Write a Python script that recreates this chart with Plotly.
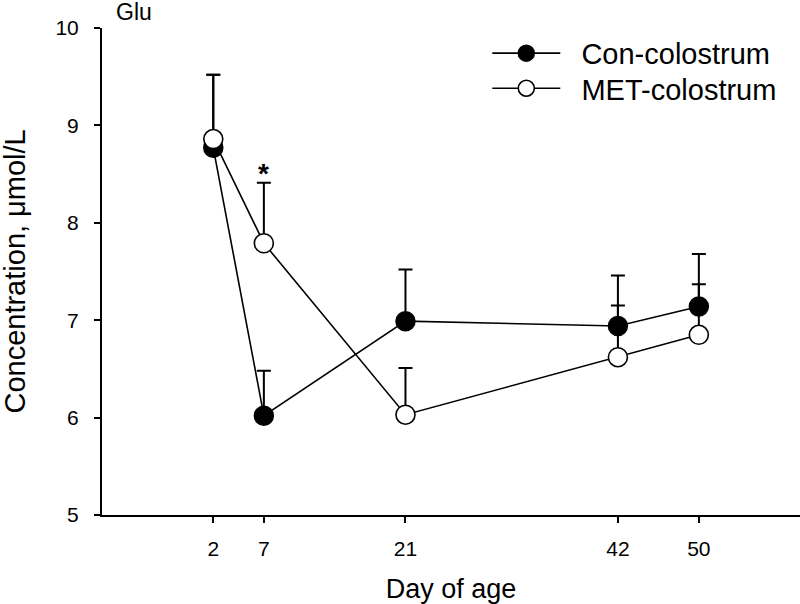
import plotly.graph_objects as go

days = [2, 7, 21, 42, 50]
con_mean = [8.77, 6.02, 6.99, 6.94, 7.14]
con_err = [0.75, 0.46, 0.53, 0.52, 0.54]
met_mean = [8.86, 7.79, 6.03, 6.62, 6.85]
met_err = [0.66, 0.62, 0.48, 0.53, 0.52]
zeros = [0, 0, 0, 0, 0]
x_ticks = [2, 7, 21, 42, 50]
y_ticks = [5, 6, 7, 8, 9, 10]

FONT = "Liberation Sans, Arial, Helvetica, sans-serif"
NB = "\u00a0\u00a0"

fig = go.Figure()
fig.add_trace(go.Scatter(
    x=days, y=con_mean, name=NB + "Con-colostrum", mode="lines+markers",
    line=dict(color="black", width=1.6),
    marker=dict(size=19, color="black", line=dict(color="black", width=1.5)),
    error_y=dict(type="data", symmetric=False, array=con_err, arrayminus=zeros,
                 color="black", thickness=2, width=7),
    legend="legend",
))
fig.add_trace(go.Scatter(
    x=days, y=met_mean, name=NB + "MET-colostrum", mode="lines+markers",
    line=dict(color="black", width=1.6),
    marker=dict(size=19, color="white", line=dict(color="black", width=1.6)),
    error_y=dict(type="data", symmetric=False, array=met_err, arrayminus=zeros,
                 color="black", thickness=2, width=7),
    legend="legend2",
))

fig.add_annotation(x=7, y=8.55, text="<b>*</b>", showarrow=False,
                   font=dict(size=28, color="black", family=FONT),
                   yanchor="middle", yshift=-4)
fig.add_annotation(x=0.0455, y=1.033, xref="paper", yref="paper", text="Glu",
                   showarrow=False, font=dict(size=23, color="black", family=FONT),
                   xanchor="center", yanchor="middle")
fig.add_annotation(x=-0.126, y=0.5, xref="paper", yref="paper",
                   text="Concentration, μmol/L", textangle=-90, showarrow=False,
                   font=dict(size=29, color="black", family=FONT),
                   xanchor="center", yanchor="middle")

leg_common = dict(xanchor="left", yanchor="middle",
                  font=dict(size=29, color="black", family=FONT),
                  bgcolor="rgba(0,0,0,0)", itemwidth=68)

fig.update_layout(
    width=800, height=604,
    margin=dict(l=102, r=0, t=28, b=89),
    paper_bgcolor="white", plot_bgcolor="white",
    font=dict(family=FONT, color="black"),
    showlegend=True,
    legend=dict(x=0.552, y=0.948, **leg_common),
    legend2=dict(x=0.552, y=0.876, **leg_common),
    xaxis=dict(range=[-9, 60], tickvals=x_ticks, ticktext=[str(v) for v in x_ticks],
               showgrid=False, zeroline=False, showline=True, linecolor="black",
               linewidth=2, ticks="outside", ticklen=6, tickwidth=2, tickcolor="black",
               tickfont=dict(size=21, color="black"), ticklabelstandoff=8,
               automargin=False,
               title=dict(text="Day of age", font=dict(size=27, color="black"), standoff=21)),
    yaxis=dict(range=[5, 10], tickvals=y_ticks,
               showgrid=False, zeroline=False, showline=True, linecolor="black",
               linewidth=2, ticks="outside", ticklen=6, tickwidth=2, tickcolor="black",
               tickfont=dict(size=21, color="black"), ticklabelstandoff=11,
               automargin=False),
)

fig.write_html("out.html", config={"displayModeBar": False},
               post_script="document.body.style.margin='0';document.body.style.overflow='hidden';")
